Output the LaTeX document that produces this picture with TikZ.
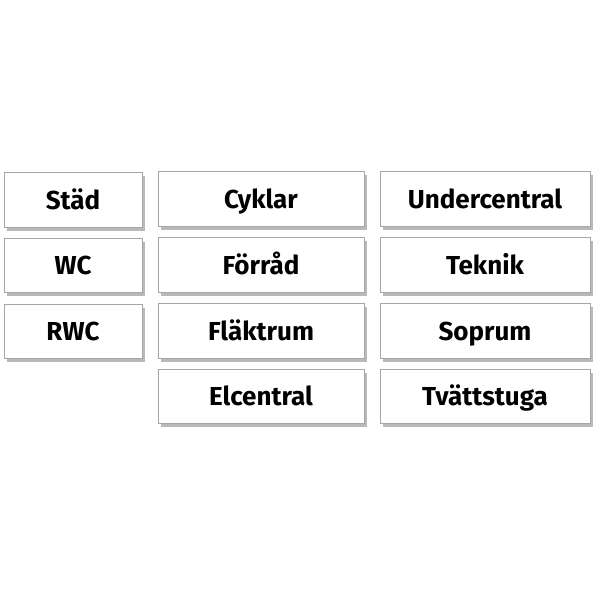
\documentclass[tikz,border=0pt]{standalone}
\usepackage{fontspec}
\setmainfont{Fira Sans}
\begin{document}
\begin{tikzpicture}[x=1pt,y=-1pt,
  sign/.style={draw=gray!70,line width=0.8pt,fill=white,font=\fontsize{26}{30}\selectfont\bfseries,inner sep=0pt,text height=19pt,text depth=0pt},
  shade/.style={fill=gray!55}]
\useasboundingbox (0,0) rectangle (600,600);
\fill[white] (0,0) rectangle (600,600);
\newcommand{\signbox}[6]{% name x1 y1 x2 y2 text
  \fill[shade] (#2+3,#3+4) rectangle (#4+3,#5+4);
  \node[sign,minimum width=#4-#2,minimum height=#5-#3] (#1) at ({(#2+#4)/2},{(#3+#5)/2}) {#6};}
\signbox{stad}{4}{172}{142}{227}{Städ}
\signbox{wc}{4}{238}{142}{292}{WC}
\signbox{rwc}{4}{304}{142}{358}{RWC}
\signbox{cyk}{158}{171}{364}{226}{Cyklar}
\signbox{forr}{158}{237}{364}{292}{Förråd}
\signbox{flak}{158}{303}{364}{358}{Fläktrum}
\signbox{elc}{158}{369}{364}{423}{Elcentral}
\signbox{und}{380}{171}{590}{226}{Undercentral}
\signbox{tek}{380}{237}{590}{292}{Teknik}
\signbox{sop}{380}{303}{590}{358}{Soprum}
\signbox{tva}{380}{369}{590}{423}{Tvättstuga}
\end{tikzpicture}
\end{document}
